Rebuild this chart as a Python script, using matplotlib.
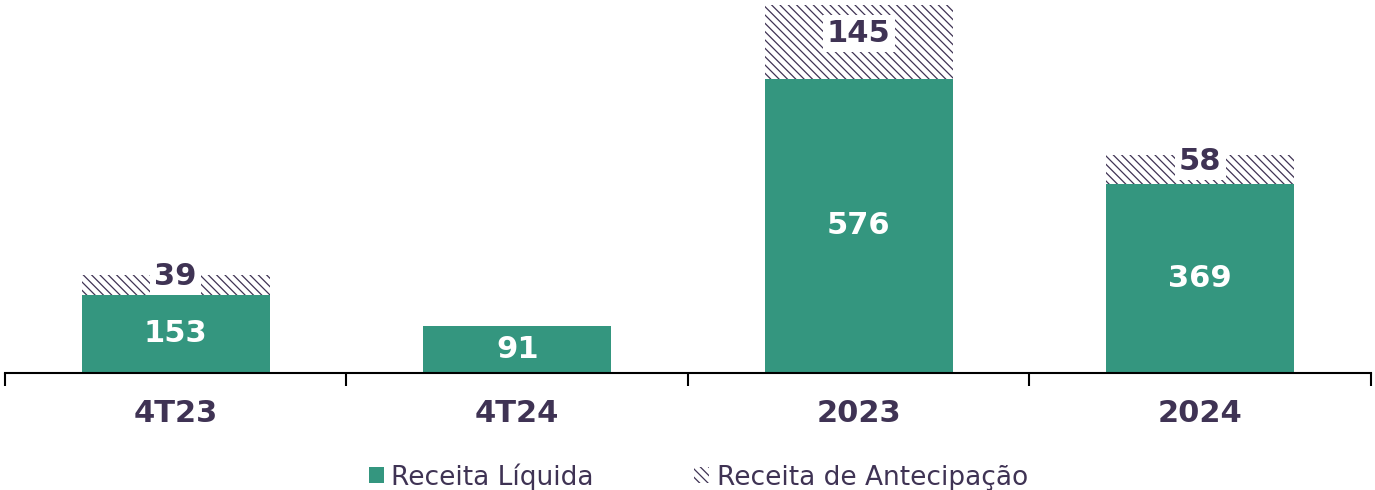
import numpy as np
import matplotlib.pyplot as plt
from matplotlib.patches import Patch

categories = ['4T23', '4T24', '2023', '2024']
receita_liquida = [153, 91, 576, 369]
receita_antecipacao = [39, 0, 145, 58]

GREEN = '#34967F'
DARK = '#3F3354'

plt.rcParams['font.family'] = ['DejaVu Sans']
plt.rcParams['hatch.linewidth'] = 0.9

fig = plt.figure(figsize=(13.75, 4.9), dpi=100)
ax = fig.add_axes([0.0036, 0.2388, 0.9935, 0.7612])

x = np.arange(len(categories))
width = 0.55
ax.bar(x, receita_liquida, width, color=GREEN, label='Receita Líquida')
ax.bar(x, receita_antecipacao, width, bottom=receita_liquida, facecolor='white',
       edgecolor=DARK, linewidth=0, hatch='\\\\\\\\', label='Receita de Antecipação')

for xi, v in zip(x, receita_liquida):
    ax.text(xi, v / 2, str(v), ha='center', va='center', color='white',
            fontsize=22, fontweight='bold')

for xi, base, v in zip(x, receita_liquida, receita_antecipacao):
    if v == 0:
        continue
    ax.annotate(str(v), (xi, base + v / 2), xytext=(0, 6), textcoords='offset points',
                ha='center', va='center', color=DARK, fontsize=22, fontweight='bold',
                bbox=dict(facecolor='white', edgecolor='none', pad=3))

ax.set_xlim(-0.5, len(categories) - 0.5)
ax.set_ylim(0, 730)
ax.set_yticks([])
for s in ['top', 'right', 'left']:
    ax.spines[s].set_visible(False)
ax.spines['bottom'].set_linewidth(1.5)
ax.spines['bottom'].set_color('black')

ax.set_xticks(x)
ax.set_xticklabels(categories, fontsize=22, fontweight='bold', color=DARK)
ax.tick_params(axis='x', which='major', length=0, pad=19)
ax.set_xticks(np.arange(-0.5, len(categories)), minor=True)
ax.tick_params(axis='x', which='minor', length=9, width=1.5, direction='out')

handles = [Patch(facecolor=GREEN, edgecolor='none', label='Receita Líquida'),
           Patch(facecolor='white', edgecolor=DARK, linewidth=0, hatch='\\\\\\\\',
                 label='Receita de Antecipação')]
leg = fig.legend(handles=handles, loc='lower center', ncol=2, frameon=False,
                 fontsize=19, bbox_to_anchor=(0.508, -0.05), handlelength=0.55,
                 handleheight=0.55, handletextpad=0.3, columnspacing=3.8)
for t in leg.get_texts():
    t.set_color(DARK)

fig.savefig('out.png', dpi=100)
